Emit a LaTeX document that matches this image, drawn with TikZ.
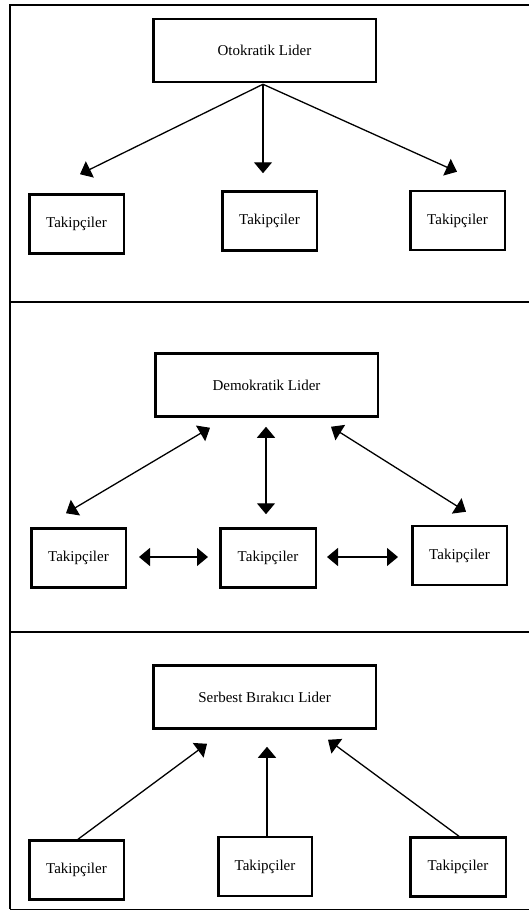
\documentclass[tikz,border=0pt]{standalone}
\usepackage{fontspec}
\setmainfont{Liberation Serif}
\usetikzlibrary{arrows.meta,calc}
\tikzset{
  box/.style={draw, line width=2.5pt, inner sep=0pt, font=\fontsize{15}{18}\selectfont},
  lead/.style={box, minimum width=222.5pt, minimum height=63pt},
  foll/.style={box, minimum width=94.5pt, minimum height=59pt},
  conn/.style={line width=1.3pt},
  tip/.style={},
  arr/.style={conn, -{Triangle[length=11pt,width=18pt]}},
  darr/.style={conn, {Triangle[length=11pt,width=18pt]}-{Triangle[length=11pt,width=18pt]}},
  frame/.style={line width=2.5pt},
}
\begin{document}
\begin{tikzpicture}[x=1pt,y=-1pt]
\useasboundingbox (0,0) rectangle (529,910);
% frame
\draw[frame] (10,909) -- (10,5) -- (529,5);
\draw[frame] (10,302) -- (529,302);
\draw[frame] (10,632) -- (529,632);
\draw[line width=1pt] (10,909) -- (529,909);

% Section 1
\node[lead] (L1) at (264.5,50.5) {Otokratik Lider};
\node[foll] (F11) at (76.5,224) {Takipçiler};
\node[foll] (F12) at (269.5,221) {Takipçiler};
\node[foll] (F13) at (457.5,220.5) {Takipçiler};
\draw[arr] ($(L1.south)+(-1.5,1)$) -- ($(F11.north)+(3.5,-19)$);
\draw[arr] ($(L1.south)+(-1.5,1)$) -- ($(F12.north)+(-6.5,-17)$);
\draw[arr] ($(L1.south)+(-1.5,1)$) -- ($(F13.north)+(-0.5,-18)$);

% Section 2
\node[lead] (L2) at (266.5,385) {Demokratik Lider};
\node[foll] (F21) at (78.5,558) {Takipçiler};
\node[foll, minimum width=95.5pt] (F22) at (268,558) {Takipçiler};
\node[foll] (F23) at (459.5,555.5) {Takipçiler};
\draw[darr] ($(L2.south)+(-56.5,10)$) -- ($(F21.north)+(-12.5,-14)$);
\draw[darr] ($(L2.south)+(-0.5,9)$) -- ($(F22.north)+(-2,-13)$);
\draw[darr] ($(L2.south)+(64.5,9)$) -- ($(F23.north)+(6.5,-13)$);
\draw[darr] ($(F21.east)+(12,-1)$) -- ($(F22.west)+(-11,-1)$);
\draw[darr] ($(F22.east)+(10,-1)$) -- ($(F23.west)+(-13,1.5)$);

% Section 3
\node[lead] (L3) at (264.5,697) {Serbest Bırakıcı Lider};
\node[foll] (F31) at (76.5,870) {Takipçiler};
\node[foll, minimum width=93.5pt] (F32) at (265,866.5) {Takipçiler};
\node[foll, minimum width=95.5pt] (F33) at (458,867) {Takipçiler};
\draw[arr] ($(F31.north)+(1.5,0)$) -- ($(L3.south)+(-57.5,14)$);
\draw[arr] ($(F32.north)+(2,0)$) -- ($(L3.south)+(2.5,17)$);
\draw[arr] ($(F33.north)+(1,0)$) -- ($(L3.south)+(63.5,10)$);
\end{tikzpicture}
\end{document}
